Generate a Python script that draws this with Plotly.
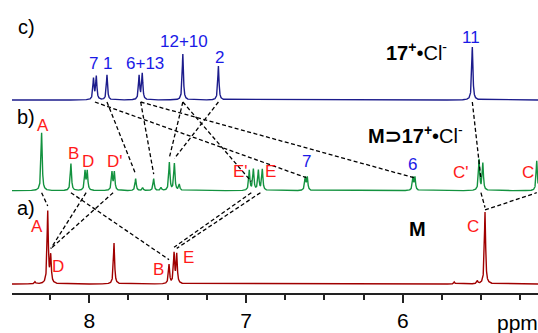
import numpy as np
import plotly.graph_objects as go

# ---------------- data ----------------
# c) 17+•Cl-  (blue) : peak positions (ppm) and heights (px-units)
c_ppm = [7.973, 7.955, 7.887, 7.682, 7.662, 7.403, 7.176, 5.556]
c_h = [21, 23, 25, 24, 26, 46, 34, 53]
# b) M⊃17+•Cl-  (green)
b_ppm = [8.304, 8.117, 8.027, 8.013, 7.855, 7.840, 7.704, 7.659, 7.589, 7.542,
         7.489, 7.457, 7.426, 6.979, 6.953, 6.921, 6.896, 6.622, 6.609, 5.935,
         5.922, 5.513, 5.489, 5.145]
b_h = [58, 27, 19, 19, 18, 18, 12, 3, 12, 3,
       28, 27, 6, 20, 21, 20, 21, 13, 13, 13,
       13, 31, 27, 30]
# a) M  (red)
a_ppm = [8.346, 8.265, 8.246, 7.842, 7.491, 7.459, 7.442, 5.671, 5.524, 5.475]
a_h = [2, 72, 27, 41, 19, 30, 29, 2, 3, 72]

# correlation lines (from ppm in upper spectrum -> ppm in lower spectrum)
cb_links = [(7.964, 6.615), (7.887, 7.704), (7.672, 7.589), (7.672, 5.929),
            (7.403, 7.489), (7.403, 6.966), (7.176, 7.457), (5.556, 5.501)]
ba_links = [(8.304, 8.265), (8.020, 8.246), (7.848, 8.246), (8.117, 7.491),
            (6.966, 7.459), (6.908, 7.442), (5.501, 5.475)]
ab_links = [(5.475, 5.145)]  # from top of a) peak up to b) baseline

tick_vals = [8, 7, 6]
tick_text = ["8", "7", "6"]

# ---------------- layout constants ----------------
W, H = 538, 333
PPM_L, PPM_R = 8.493, 5.137
AX_Y = 293
BASE = {"c": 100.0, "b": 190.7, "a": 284.0}
HW = 0.0045  # Lorentzian half width (ppm)
FONT = "Liberation Sans, Arial, sans-serif"

COL_C = "#1c1c8c"
COL_B = "#13923f"
COL_A = "#a00000"
RED = "#ff1a1a"
BLUE = "#1a1ae6"


def signal(ppms, hs, xv):
    xv = np.asarray(xv, dtype=float)
    s = np.zeros_like(xv)
    for p, h in zip(ppms, hs):
        s += h * HW**2 / ((xv - p) ** 2 + HW**2)
    return s


def ypos(which, ppms, hs, xv):
    return BASE[which] - signal(ppms, hs, xv)


x = np.arange(PPM_R, PPM_L, 0.0005)
fig = go.Figure()
for key, pp, hh, col in [("c", c_ppm, c_h, COL_C), ("b", b_ppm, b_h, COL_B),
                         ("a", a_ppm, a_h, COL_A)]:
    fig.add_trace(go.Scatter(x=x, y=ypos(key, pp, hh, x), mode="lines",
                             line=dict(color=col, width=1.4),
                             hoverinfo="skip", showlegend=False))

# dashed correlation lines
lx, ly = [], []
GAP = 4.5
for p0, p1 in cb_links:
    lx += [p0, p1, None]
    ly += [BASE["c"] + 2, float(ypos("b", b_ppm, b_h, [p1])[0]) - GAP, None]
for p0, p1 in ba_links:
    lx += [p0, p1, None]
    ly += [BASE["b"] + 2, float(ypos("a", a_ppm, a_h, [p1])[0]) - GAP, None]
for p0, p1 in ab_links:
    lx += [p0, p1, None]
    ly += [float(ypos("a", a_ppm, a_h, [p0])[0]) - 2, BASE["b"] + 2, None]
fig.add_trace(go.Scatter(x=lx, y=ly, mode="lines",
                         line=dict(color="black", width=1.3, dash="4px,2.5px"),
                         hoverinfo="skip", showlegend=False))


def ann(text, px, py, color="black", size=17):
    fig.add_annotation(text=text, x=px / W, y=1 - py / H, xref="paper", yref="paper",
                       showarrow=False, xanchor="center", yanchor="middle",
                       font=dict(family=FONT, size=size, color=color))


# panel labels
ann("c)", 26, 27, size=20)
ann("b)", 26, 117, size=20)
ann("a)", 26, 208, size=20)
# c) labels
ann("7", 93, 63, BLUE)
ann("1", 107.5, 63, BLUE)
ann("6+13", 144.5, 63, BLUE)
ann("12+10", 184, 41, BLUE)
ann("2", 219.5, 57.5, BLUE)
ann("11", 471, 37, BLUE)
ann("<b>17</b><sup><b>+</b></sup>•Cl<sup>-</sup>", 416, 51, "black", 20)
# b) labels
ann("A", 42.5, 125.5, RED)
ann("B", 73, 153, RED)
ann("D", 87.5, 161.5, RED)
ann("D'", 115, 161.5, RED)
ann("E'", 240, 171.5, RED)
ann("E", 270, 171.5, RED)
ann("7", 306.5, 161.5, BLUE)
ann("6", 412.5, 164.5, BLUE)
ann("C'", 461, 172.5, RED)
ann("C", 527.5, 172.5, RED)
ann("<b>M⊃17</b><sup><b>+</b></sup>•Cl<sup>-</sup>", 415, 134, "black", 20)
# a) labels
ann("A", 37, 226, RED)
ann("D", 58, 266, RED)
ann("B", 158, 269, RED)
ann("E", 188, 257.5, RED)
ann("<b>M</b>", 417, 228.5, "black", 20)
ann("C", 472.5, 226.5, RED)
ann("ppm", 517, 322, "black", 21)

fig.update_layout(
    width=W, height=H, margin=dict(l=0, r=0, t=0, b=0),
    paper_bgcolor="white", plot_bgcolor="white",
    xaxis=dict(range=[PPM_L, PPM_R], domain=[12 / W, 1], showgrid=False,
               zeroline=False, showline=True, linecolor="#222", linewidth=1.6,
               ticks="outside", ticklen=8, tickwidth=1.5, tickcolor="#222",
               tickvals=tick_vals, ticktext=tick_text,
               tickfont=dict(family=FONT, size=21, color="black"),
               minor=dict(dtick=0.25, ticks="outside", ticklen=5, tickwidth=1.5,
                          tickcolor="#222")),
    yaxis=dict(range=[AX_Y, 0], domain=[(H - AX_Y) / H, 1], visible=False),
    showlegend=False,
)
fig.write_html("out.html", config={"displayModeBar": False},
               post_script="document.body.style.margin='0';"
                           "document.body.style.overflow='hidden';")
